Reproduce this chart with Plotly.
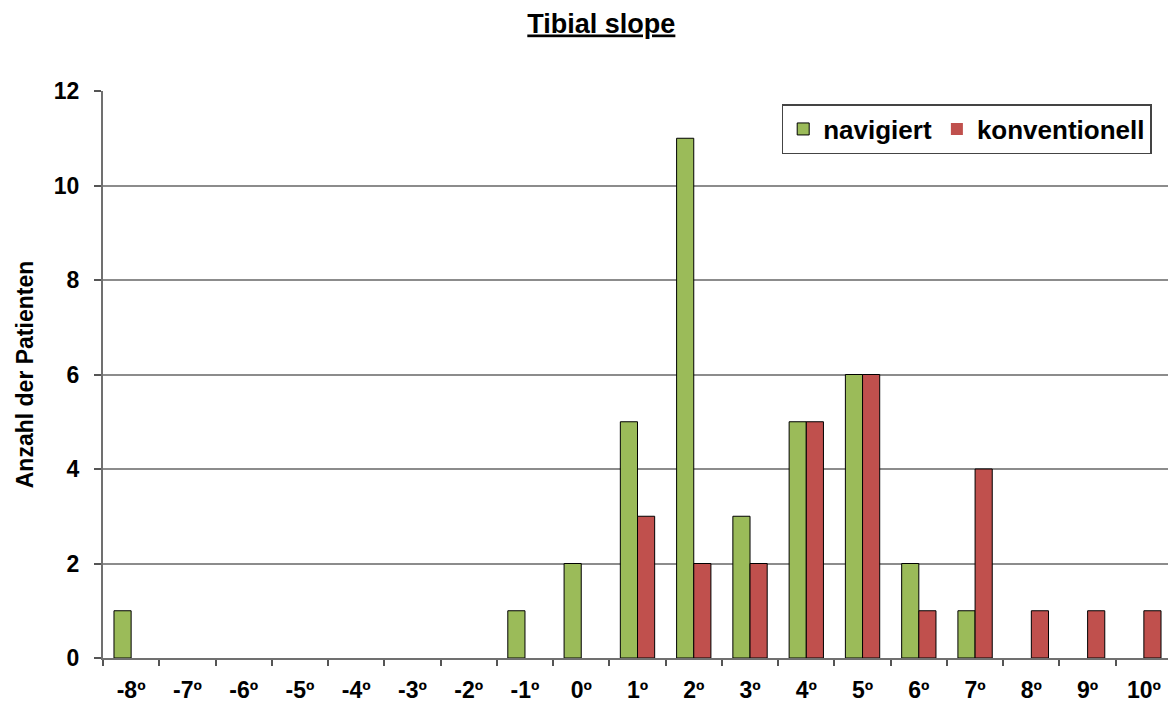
import plotly.graph_objects as go

categories = ["-8º", "-7º", "-6º", "-5º", "-4º", "-3º", "-2º", "-1º", "0º", "1º",
              "2º", "3º", "4º", "5º", "6º", "7º", "8º", "9º", "10º"]
navigiert = [1, 0, 0, 0, 0, 0, 0, 1, 2, 5, 11, 3, 5, 6, 2, 1, 0, 0, 0]
konventionell = [0, 0, 0, 0, 0, 0, 0, 0, 0, 3, 2, 2, 5, 6, 1, 4, 1, 1, 1]
y_ticks = [0, 2, 4, 6, 8, 10, 12]

font_family = "Liberation Sans, Arial, sans-serif"


def outline(values):
    return [1 if v > 0 else 0 for v in values]


fig = go.Figure()
fig.add_trace(go.Bar(x=categories, y=navigiert, name="navigiert",
                     marker=dict(color="#9BBB59",
                                 line=dict(color="#000000", width=outline(navigiert)))))
fig.add_trace(go.Bar(x=categories, y=konventionell, name="konventionell",
                     marker=dict(color="#C0504D",
                                 line=dict(color="#000000", width=outline(konventionell)))))

fig.update_layout(
    width=1168, height=700,
    margin=dict(l=95, r=4, t=83, b=50),
    paper_bgcolor="white", plot_bgcolor="white",
    barmode="group", bargap=0.39, bargroupgap=0,
    font=dict(family=font_family, color="#000000"),
    title=dict(text="<b><u>Tibial slope</u></b>", xref="container", x=0.508, xanchor="center",
               yref="container", y=0.992, yanchor="top", font=dict(size=27, family=font_family)),
    legend=dict(orientation="h", x=0.981, xanchor="right", y=0.977, yanchor="top",
                bgcolor="white", bordercolor="#444444", borderwidth=1.5,
                font=dict(size=26, family=font_family, weight="bold"),
                itemwidth=30, traceorder="normal"),
    showlegend=True,
)
fig.update_xaxes(
    type="category", tickson="boundaries", ticks="outside", ticklen=6,
    tickcolor="#555555", tickwidth=1.5, ticklabelstandoff=10,
    showline=True, linecolor="#707070", linewidth=2, mirror=False,
    showgrid=False, tickfont=dict(size=23, family=font_family, weight="bold"),
)
fig.update_yaxes(
    range=[0, 12], tickvals=y_ticks, ticks="outside", ticklen=7,
    tickcolor="#555555", tickwidth=1.5, ticklabelstandoff=10,
    showline=True, linecolor="#707070", linewidth=2, mirror=False,
    showgrid=True, gridcolor="#8c8c8c", gridwidth=1.5, zeroline=False,
    tickfont=dict(size=23, family=font_family, weight="bold"),
    title=dict(text="<b>Anzahl der Patienten</b>", standoff=14,
               font=dict(size=23, family=font_family)),
)
# right border of plot area
fig.add_shape(type="line", xref="paper", yref="paper", x0=1, x1=1, y0=0, y1=1,
              line=dict(color="#9a9a9a", width=2))

fig.write_html("out.html")
